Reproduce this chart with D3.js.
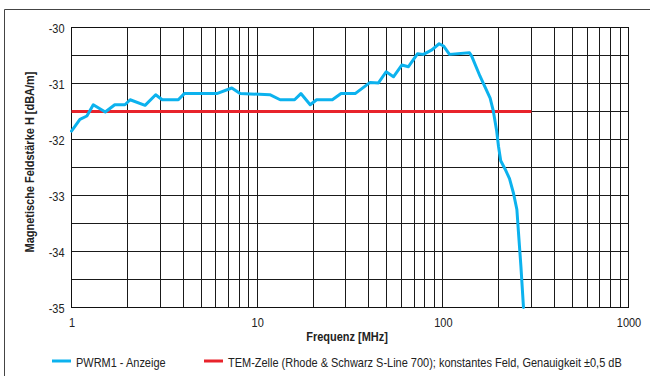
<!DOCTYPE html>
<html>
<head>
<meta charset="utf-8">
<script src="https://cdn.jsdelivr.net/npm/d3@7"></script>
<style>
  html, body { margin: 0; padding: 0; background: #fff; }
  svg { display: block; }
  text { font-family: "Liberation Sans", Arial, sans-serif; fill: #222; }
</style>
</head>
<body>
<svg id="chart" width="650" height="376"></svg>
<script>
// Measured field strength of the PWRM1 display (MHz, dBA/m)
const pwrmFreq = [1, 1.11, 1.21, 1.31, 1.52, 1.71, 1.94, 2.07, 2.49, 2.84, 3.08, 3.76, 4.05,
  6.06, 7.3, 8.09, 11.7, 13.3, 15.9, 17.2, 19.3, 20.9, 25.4, 28.3, 33.7, 40.6, 45, 49.5,
  54.2, 60.1, 65.3, 73, 78.6, 87.3, 95.5, 100.8, 108.6, 139, 143, 158.6, 179.8, 187,
  195, 199.4, 205, 216.6, 228.6, 240.2, 250.5, 255.5, 263.3, 271.9];
const pwrmValue = [-31.85, -31.64, -31.58, -31.38, -31.51, -31.38, -31.38, -31.29, -31.39,
  -31.2, -31.29, -31.29, -31.18, -31.18, -31.08, -31.18, -31.2, -31.29, -31.29, -31.18,
  -31.38, -31.29, -31.29, -31.18, -31.18, -30.98, -30.99, -30.79, -30.88, -30.67, -30.7,
  -30.47, -30.48, -30.4, -30.29, -30.33, -30.48, -30.45, -30.51, -30.87, -31.26, -31.49,
  -31.85, -32.12, -32.38, -32.53, -32.7, -32.96, -33.25, -33.66, -34.26, -35.0];

// TEM cell reference: constant field
const temFreq = [1, 300];
const temValue = [-31.5, -31.5];

const xTicks = [1, 10, 100, 1000];
const yTicks = [-35, -34, -33, -32, -31, -30];
const legendLabels = ["PWRM1 - Anzeige",
  "TEM-Zelle (Rhode & Schwarz S-Line 700); konstantes Feld, Genauigkeit \u00b10,5 dB"];
const colors = ["#0cb2ee", "#e8232b"];

// condensed type: regular face squeezed horizontally
const narrow = 0.845;

const svg = d3.select("#chart");
const plotL = 71.5, plotR = 628.5, plotT = 27.5, plotB = 307.5;

const x = d3.scaleLog().domain([1, 1000]).range([plotL, plotR]);
const y = d3.scaleLinear().domain([-35, -30]).range([plotB, plotT]);

function label(px, py, str, opts = {}) {
  return svg.append("g")
    .attr("transform", `translate(${px},${py}) rotate(${opts.rotate || 0}) scale(${narrow},1)`)
    .append("text")
    .attr("text-anchor", opts.anchor || "start")
    .attr("font-size", opts.size || 13)
    .attr("font-weight", opts.weight || "normal")
    .text(str);
}

// outer frame
svg.append("path")
  .attr("d", `M4.5,376 L4.5,9.5 L650,9.5`)
  .attr("fill", "none").attr("stroke", "#444").attr("stroke-width", 1);

// grid: every integer step per decade, every 0.5 dB
const gridX = [];
for (let d = 1; d < 1000; d *= 10) for (let k = 1; k < 10; k++) gridX.push(d * k);
gridX.push(1000);
const gridY = d3.range(-35, -29.99, 0.5);

const g = svg.append("g");
g.selectAll("line.gx").data(gridX).join("line")
  .attr("x1", d => Math.round(x(d) - 0.5) + 0.5).attr("x2", d => Math.round(x(d) - 0.5) + 0.5)
  .attr("y1", plotT).attr("y2", plotB)
  .attr("stroke", "#1a1a1a").attr("stroke-width", 1);
g.selectAll("line.gy").data(gridY).join("line")
  .attr("x1", plotL).attr("x2", plotR)
  .attr("y1", d => Math.round(y(d) - 0.5) + 0.5).attr("y2", d => Math.round(y(d) - 0.5) + 0.5)
  .attr("stroke", "#1a1a1a").attr("stroke-width", 1);
g.append("rect").attr("x", plotL).attr("y", plotT).attr("width", plotR - plotL).attr("height", plotB - plotT)
  .attr("fill", "none").attr("stroke", "#111").attr("stroke-width", 1);

// tick labels through the library's axes
const xAxis = d3.axisBottom(x).tickValues(xTicks).tickFormat(d3.format("d")).tickSize(0).tickPadding(0);
svg.append("g").attr("transform", `translate(0,${plotB})`).call(xAxis)
  .call(s => s.select(".domain").remove())
  .selectAll("text").attr("font-size", 13).attr("y", 0).attr("dy", 0)
  .attr("transform", `translate(0,19.5) scale(${narrow},1)`)
  .attr("font-family", "'Liberation Sans', Arial, sans-serif").attr("fill", "#222");

const yAxis = d3.axisLeft(y).tickValues(yTicks).tickFormat(d => d).tickSize(0).tickPadding(0);
svg.append("g").attr("transform", `translate(${plotL - 7},0)`).call(yAxis)
  .call(s => s.select(".domain").remove())
  .selectAll("text").attr("font-size", 13).attr("dy", "0.35em").attr("x", 0)
  .attr("transform", `scale(${narrow},1)`)
  .attr("font-family", "'Liberation Sans', Arial, sans-serif").attr("fill", "#222");

label(347, 341, "Frequenz [MHz]", { anchor: "middle", weight: "bold" });
label(34, 162, "Magnetische Feldst\u00e4rke H [dBA/m]", { anchor: "middle", weight: "bold", rotate: -90 });

// series
const line = d3.line().x(d => x(d[0])).y(d => y(d[1]));
svg.append("path").datum(d3.zip(temFreq, temValue)).attr("d", line)
  .attr("fill", "none").attr("stroke", colors[1]).attr("stroke-width", 3);
svg.append("path").datum(d3.zip(pwrmFreq, pwrmValue)).attr("d", line)
  .attr("fill", "none").attr("stroke", colors[0]).attr("stroke-width", 3)
  .attr("stroke-linejoin", "round").attr("stroke-linecap", "round");

// legend
const legendX = [52, 204];
legendLabels.forEach((lab, i) => {
  svg.append("line").attr("x1", legendX[i]).attr("x2", legendX[i] + 19).attr("y1", 361).attr("y2", 361)
    .attr("stroke", colors[i]).attr("stroke-width", 3);
  label(legendX[i] + 24, 366.5, lab);
});
</script>
</body>
</html>
